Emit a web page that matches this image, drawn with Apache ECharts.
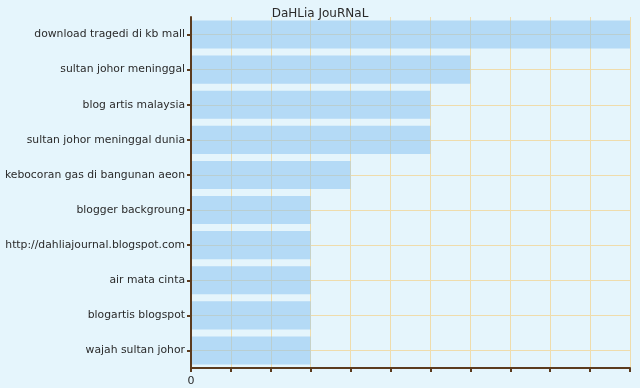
<!DOCTYPE html>
<html>
<head>
<meta charset="utf-8">
<script src="https://cdn.jsdelivr.net/npm/echarts@6/dist/echarts.min.js"></script>
<style>
  html, body { margin: 0; padding: 0; background: #e5f5fc; }
  #chart { width: 640px; height: 388px; }
</style>
</head>
<body>
<div id="chart"></div>
<script>
const categories = [
  'download tragedi di kb mall',
  'sultan johor meninggal',
  'blog artis malaysia',
  'sultan johor meninggal dunia',
  'kebocoran gas di bangunan aeon',
  'blogger backgroung',
  'http://dahliajournal.blogspot.com',
  'air mata cinta',
  'blogartis blogspot',
  'wajah sultan johor',
]
const hits = [11, 7, 6, 6, 4, 3, 3, 3, 3, 3]
const xTickLabels = ['0', '', '', '', '', '', '', '', '', '', '', '']

const axisColor = '#5b3b1f'
const gridColor = '#efdcac'

const chart = echarts.init(document.getElementById('chart'))
chart.setOption({
  backgroundColor: '#e5f5fc',
  animation: false,
  title: {
    text: 'DaHLia JouRNaL',
    left: 'center',
    top: 3,
    textStyle: { fontFamily: 'DejaVu Sans', fontSize: 12, fontWeight: 'normal', color: '#2a2a2a' },
  },
  grid: { left: 191, right: 10, top: 17, bottom: 20, outerBoundsMode: 'none' },
  xAxis: {
    type: 'value',
    min: 0,
    max: 11,
    interval: 1,
    axisLine: { show: true, onZero: false, lineStyle: { color: axisColor, width: 2 } },
    axisTick: { show: true, length: 4, lineStyle: { color: axisColor, width: 2 } },
    axisLabel: {
      formatter: (v) => xTickLabels[v] || '',
      fontFamily: 'DejaVu Sans',
      fontSize: 11,
      color: '#2a2a2a',
      margin: 8,
    },
    splitLine: { show: true, showMinLine: false, lineStyle: { color: gridColor, width: 1 } },
  },
  yAxis: [
    {
      type: 'category',
      inverse: true,
      data: categories,
      axisLine: { show: true, onZero: false, lineStyle: { color: axisColor, width: 2 } },
      axisTick: { show: true, alignWithLabel: true, length: 4, lineStyle: { color: axisColor, width: 2 } },
      axisLabel: { fontFamily: 'DejaVu Sans', fontSize: 10.8, color: '#2a2a2a', margin: 6 },
      splitLine: { show: false },
      z: 4,
    },
    {
      // hidden helper axis: horizontal grid lines through the category centres
      type: 'value',
      position: 'right',
      min: -0.5,
      max: categories.length - 0.5,
      splitNumber: categories.length,
      axisLine: { show: false },
      axisTick: { show: false },
      axisLabel: { show: false },
      splitLine: { show: true, showMinLine: false, showMaxLine: false, lineStyle: { color: gridColor, width: 1 } },
    },
  ],
  series: [
    {
      type: 'bar',
      data: hits,
      yAxisIndex: 0,
      barCategoryGap: '20%',
      itemStyle: { color: 'rgba(140,195,240,0.55)' },
      z: 3,
    },
  ],
})
</script>
</body>
</html>
